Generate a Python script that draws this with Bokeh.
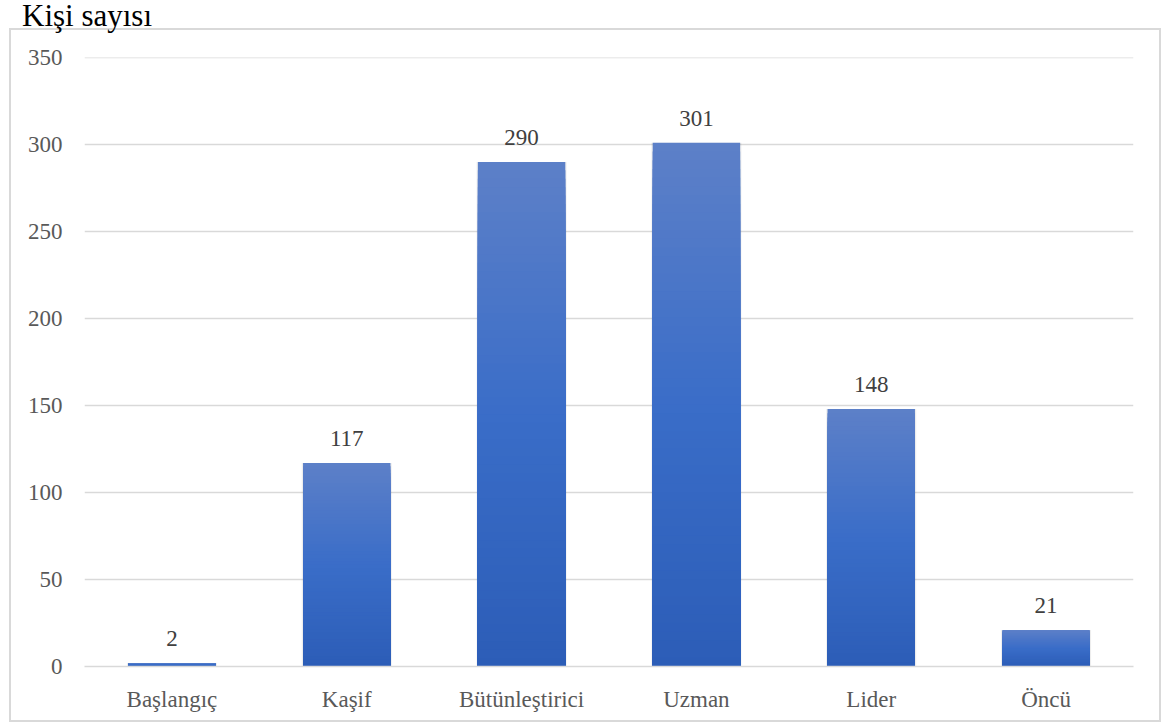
from bokeh.plotting import figure
from bokeh.models import FactorRange, Range1d, ColumnDataSource, FixedTicker, Div
from bokeh.layouts import column
from bokeh.embed import file_html
from bokeh.resources import INLINE

categories = ["Başlangıç", "Kaşif", "Bütünleştirici", "Uzman", "Lider", "Öncü"]
values = [2, 117, 290, 301, 148, 21]
y_ticks = [0, 50, 100, 150, 200, 250, 300, 350]
title_text = "Kişi sayısı"

FONT = "Liberation Serif"

p = figure(width=1152, height=694, x_range=FactorRange(*categories, range_padding=0),
           y_range=Range1d(0, 350.02), output_backend="svg", toolbar_location=None,
           min_border_left=75, min_border_right=28, min_border_top=29, min_border_bottom=56,
           margin=(0, 0, 0, 9),
           styles={"box-shadow": "0 0 0 2px #d9d9d9 inset", "background-color": "white"})
p.outline_line_color = None
p.background_fill_color = "white"
p.border_fill_color = None

# gradient bars: overlapping levels, each from 0 up to a fraction of the value
stops = [(0.0, (44, 93, 183)), (0.5, (58, 109, 200)), (1.0, (93, 128, 200))]
def grad(t):
    for (t0, c0), (t1, c1) in zip(stops[:-1], stops[1:]):
        if t0 <= t <= t1:
            f = (t - t0) / (t1 - t0)
            return "#%02x%02x%02x" % tuple(int(round(a + (b - a) * f)) for a, b in zip(c0, c1))
    return "#%02x%02x%02x" % stops[-1][1]

# shadow
p.vbar(x=categories, top=values, bottom=0, width=0.515, fill_color="#000000", fill_alpha=0.07,
       line_color=None)

N = 60
xs, tops, cols = [], [], []
for k in range(N, 0, -1):
    for c, v in zip(categories, values):
        xs.append(c)
        tops.append(v * k / N)
        cols.append(grad((k - 0.5) / N))
src = ColumnDataSource(dict(x=xs, top=tops, color=cols))
p.vbar(x="x", bottom=0, top="top", width=0.5, fill_color="color", line_color=None, source=src)

# value labels
p.text(x=categories, y=values, text=[str(v) for v in values], text_align="center",
       text_baseline="bottom", y_offset=-17, text_font=FONT, text_font_size="23px",
       text_color="#404040")

# axes
p.yaxis.ticker = FixedTicker(ticks=y_ticks)
p.yaxis.axis_line_color = None
p.yaxis.major_tick_line_color = None
p.yaxis.minor_tick_line_color = None
p.yaxis.major_label_text_font = FONT
p.yaxis.major_label_text_font_size = "23px"
p.yaxis.major_label_text_color = "#595959"
p.yaxis.major_label_standoff = 16

p.xaxis.axis_line_color = "#d9d9d9"
p.xaxis.axis_line_width = 1.5
p.xaxis.major_tick_line_color = None
p.xaxis.minor_tick_line_color = None
p.xaxis.major_label_text_font = FONT
p.xaxis.major_label_text_font_size = "23px"
p.xaxis.major_label_text_color = "#595959"
p.xaxis.major_label_standoff = 14

p.xgrid.grid_line_color = None
p.ygrid.grid_line_color = "#d9d9d9"
p.ygrid.grid_line_width = 1.5

title = Div(text=title_text, width=300, height=28, margin=(0, 0, 0, 22),
            styles={"font-family": "'Liberation Serif', 'Times New Roman', serif",
                    "font-size": "31px", "line-height": "31px",
                    "color": "#000000", "overflow": "visible", "z-index": "2"})

layout = column(title, p, spacing=0)
open("out.html", "w").write(file_html(layout, INLINE))
